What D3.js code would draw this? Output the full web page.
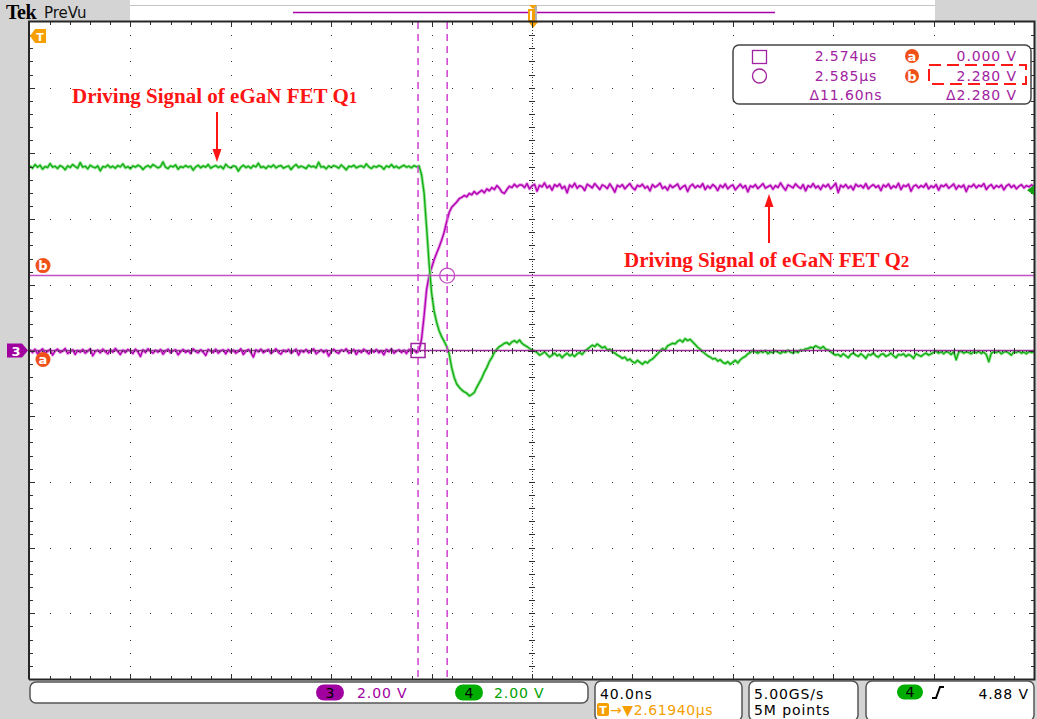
<!DOCTYPE html>
<html><head><meta charset="utf-8">
<script src="https://cdn.jsdelivr.net/npm/d3@7"></script>
<style>
html,body{margin:0;padding:0;background:#d4d4d4;}
svg{display:block;}
</style></head><body>
<svg id="scope" width="1037" height="719"></svg>
<script>
// ---- acquisition settings ----
const timePerDiv = 40;          // ns / div
const centerTime = 2619.4;      // ns at screen centre (trigger delay)
const voltsPerDiv = 2;          // V / div, both channels
const sampleStart = 2419.4;     // ns, first stored sample
const sampleStep = 1;           // ns between stored samples

// ---- channel 4 (green): gate drive of Q1, volts ----
const ch4Volts = [
  5.62,5.55,5.66,5.58,5.64,5.52,5.60,5.57,5.69,5.58,
  5.61,5.54,5.63,5.59,5.50,5.62,5.57,5.66,5.60,5.55,
  5.72,5.58,5.61,5.53,5.64,5.59,5.56,5.62,5.47,5.60,
  5.58,5.65,5.57,5.61,5.55,5.63,5.59,5.68,5.56,5.60,
  5.53,5.62,5.58,5.64,5.60,5.51,5.59,5.63,5.57,5.66,
  5.61,5.56,5.60,5.74,5.58,5.54,5.62,5.59,5.65,5.52,
  5.60,5.57,5.63,5.58,5.61,5.49,5.59,5.64,5.56,5.62,
  5.58,5.66,5.55,5.60,5.63,5.57,5.61,5.53,5.67,5.59,
  5.56,5.62,5.60,5.46,5.58,5.64,5.57,5.61,5.55,5.63,
  5.59,5.70,5.57,5.60,5.54,5.62,5.58,5.65,5.56,5.61,
  5.63,5.55,5.59,5.62,5.51,5.60,5.66,5.57,5.61,5.58,
  5.54,5.64,5.59,5.61,5.56,5.73,5.58,5.60,5.53,5.62,
  5.57,5.63,5.60,5.55,5.65,5.58,5.50,5.61,5.59,5.64,
  5.56,5.60,5.62,5.57,5.68,5.59,5.54,5.61,5.58,5.63,
  5.60,5.52,5.62,5.58,5.66,5.57,5.61,5.55,5.60,5.64,
  5.58,5.61,5.56,5.63,5.59,5.62,
  5.35,4.80,3.75,2.65,1.75,1.20,0.86,0.60,0.42,0.28,
  0.12,-0.10,-0.52,-0.82,-1.02,-1.12,-1.20,-1.26,-1.30,-1.38,
  -1.34,-1.28,-1.12,-0.98,-0.84,-0.66,-0.52,-0.34,-0.22,-0.06,
  0.04,0.12,0.16,0.22,0.24,0.18,0.26,0.30,0.24,0.32,
  0.22,0.16,0.12,0.06,0.02,
  -0.02,-0.06,-0.14,-0.10,-0.04,-0.12,-0.20,-0.14,-0.08,-0.16,
  -0.12,-0.22,-0.14,-0.08,-0.16,-0.12,-0.18,-0.10,-0.06,-0.12,
  -0.02,0.04,0.10,0.16,0.12,0.20,0.14,0.08,0.12,0.02,
  0.04,-0.04,-0.08,-0.14,-0.18,-0.24,-0.20,-0.30,-0.26,-0.34,
  -0.38,-0.30,-0.36,-0.42,-0.34,-0.38,-0.30,-0.26,-0.18,-0.10,
  -0.02,0.06,0.02,0.14,0.18,0.22,0.20,0.28,0.32,0.26,
  0.36,0.30,0.34,0.26,0.18,0.10,0.04,-0.04,-0.10,-0.16,
  -0.20,-0.26,-0.24,-0.32,-0.28,-0.36,-0.40,-0.34,-0.42,-0.36,
  -0.30,-0.38,-0.28,-0.22,-0.18,-0.10,-0.06,0.00,-0.04,-0.08,
  -0.02,-0.06,0.00,-0.10,-0.04,-0.07,-0.01,-0.05,-0.09,-0.03,
  -0.06,0.01,-0.05,-0.08,-0.02,-0.06,0.02,0.00,0.05,0.06,
  0.10,0.08,0.14,0.10,0.06,0.12,0.04,0.02,-0.04,-0.10,
  -0.14,-0.12,-0.18,-0.10,-0.16,-0.22,-0.12,-0.08,-0.14,-0.18,
  -0.10,-0.16,-0.24,-0.12,-0.14,-0.08,-0.16,-0.20,-0.12,-0.10,
  -0.18,-0.14,-0.08,-0.16,-0.22,-0.12,-0.14,-0.10,-0.18,-0.12,
  -0.16,-0.24,-0.10,-0.14,-0.18,-0.12,-0.08,-0.14,-0.10,-0.06,
  -0.02,-0.08,-0.04,-0.10,-0.03,-0.06,-0.12,-0.04,-0.28,-0.05,
  -0.02,-0.08,-0.04,-0.06,-0.10,-0.03,-0.07,-0.02,-0.09,-0.05,
  -0.12,-0.34,-0.08,-0.04,-0.06,-0.02,-0.10,-0.05,-0.03,-0.08,
  -0.14,-0.04,-0.06,-0.02,-0.08,-0.05,-0.10,-0.03,-0.06,-0.04
];

// ---- channel 3 (magenta): gate drive of Q2, volts ----
const ch3Volts = [
  0.02,-0.06,0.04,-0.10,-0.02,0.05,-0.08,-0.03,0.03,-0.14,
  -0.01,0.04,-0.06,-0.02,0.06,-0.09,-0.04,0.02,-0.12,0.00,
  -0.05,0.03,-0.08,-0.02,0.05,-0.16,-0.03,0.01,-0.07,0.04,
  -0.04,-0.10,0.02,-0.05,0.06,-0.03,-0.12,0.01,-0.06,0.03,
  -0.02,-0.09,0.04,-0.04,-0.18,0.02,-0.06,0.05,-0.03,-0.08,
  0.01,-0.05,0.03,-0.11,-0.02,0.04,-0.07,-0.01,0.02,-0.13,
  -0.04,0.03,-0.06,0.00,-0.09,0.05,-0.03,-0.07,0.02,-0.05,
  -0.15,0.03,-0.02,-0.06,0.04,-0.08,-0.01,0.02,-0.10,0.03,
  -0.05,0.01,-0.08,-0.03,0.05,-0.12,-0.02,0.03,-0.06,-0.20,
  0.02,-0.04,0.04,-0.07,-0.01,0.03,-0.09,-0.03,0.05,-0.06,
  -0.11,0.01,-0.04,0.03,-0.08,-0.02,0.04,-0.14,0.00,-0.05,
  0.03,-0.07,-0.02,0.05,-0.10,-0.04,0.02,-0.06,0.01,-0.17,
  -0.03,0.04,-0.05,-0.09,0.02,-0.02,0.05,-0.08,-0.04,0.03,
  -0.12,0.00,-0.06,0.04,-0.03,-0.10,0.02,-0.05,0.03,-0.07,
  -0.01,-0.13,0.03,-0.04,0.05,-0.08,-0.02,0.02,-0.06,0.01,
  -0.09,0.03,-0.04,0.02,-0.07,0.00,
  0.35,1.05,1.85,2.28,2.52,2.76,2.96,3.15,3.36,3.60,
  3.92,4.20,4.36,4.44,4.52,4.62,4.66,4.72,4.68,4.78,
  4.74,4.84,4.76,4.82,4.88,4.80,4.92,4.86,4.96,4.90,
  5.02,4.94,4.82,4.78,4.90,5.00,4.96,5.06,4.98,5.04,
  5.04,4.96,5.08,4.92,5.01,5.06,4.85,5.03,4.98,5.10,
  4.95,5.02,4.88,5.05,4.99,5.07,4.93,5.00,4.80,5.04,
  4.97,5.09,4.94,5.02,4.98,4.87,5.06,5.01,4.95,5.08,
  4.99,4.90,5.04,5.00,4.93,5.07,4.96,4.82,5.03,4.98,
  5.05,4.92,5.01,5.08,4.96,4.89,5.03,4.99,5.06,4.94,
  5.00,4.86,5.05,4.97,5.02,5.09,4.93,4.99,4.88,5.04,
  4.96,5.01,5.07,4.91,4.98,5.03,4.84,5.00,5.06,4.95,
  5.02,4.97,5.08,4.90,5.01,4.94,5.05,4.99,4.87,5.03,
  4.96,5.07,4.92,5.00,5.04,4.89,4.98,5.06,4.95,5.02,
  4.83,5.01,4.97,5.05,4.93,5.00,5.08,4.94,4.99,5.03,
  4.91,5.02,4.96,5.10,4.98,4.88,5.04,5.00,4.95,5.07,
  4.99,4.93,5.05,4.86,5.02,4.97,5.08,4.95,5.01,4.90,
  5.04,4.98,5.06,4.92,5.00,5.09,4.81,5.03,4.97,5.05,
  4.94,5.01,4.89,5.06,4.99,5.03,4.95,5.08,4.92,5.00,
  5.05,4.96,5.02,4.87,5.04,4.98,5.07,4.93,5.01,4.96,
  5.09,4.90,5.03,4.99,5.06,4.85,5.00,5.04,4.95,5.02,
  4.97,5.08,4.92,5.01,4.96,5.05,4.88,5.03,4.99,5.06,
  4.94,5.00,5.07,4.91,5.02,4.97,5.04,4.84,5.01,4.98,
  5.06,4.95,5.03,4.99,5.08,4.90,5.00,5.05,4.93,5.02,
  4.97,5.04,4.89,5.01,5.06,4.96,5.03,4.92,5.00,5.05,
  4.95,5.02,4.98,5.04,4.99
];

// ---- cursors, trigger and readouts ----
const cursorTimes = [2574.0, 2585.6];   // ns (a, b)
const cursorVolts = [0.000, 2.280];     // V  (a, b)
const triggerLevel = 4.88;              // V on channel 4
const readoutTimes = ["2.574µs", "2.585µs", "Δ11.60ns"];
const readoutVolts = ["0.000 V", "2.280 V", "Δ2.280 V"];
const channelNames = ["3", "4"];
const channelScales = ["2.00 V", "2.00 V"];
const horizontalLabels = ["40.0ns", "2.61940µs"];
const acquisitionLabels = ["5.00GS/s", "5M points"];
const triggerLabel = "4.88 V";
const annotations = ["Driving Signal of eGaN FET Q", "1", "Driving Signal of eGaN FET Q", "2"];

// ---- layout ----
const W = 1037, H = 719;
const plot = {left: 30, right: 1034, top: 22, bottom: 679};
const C3 = "#b400b4", C3light = "#e6a0e6", C4 = "#12b012", C4light = "#a0e4a0";
const CURSOR = "#c450c4", READ = "#a022a0", ORANGE = "#f5a000", BADGE = "#f0501a";
const UI_FONT = "'DejaVu Sans', Verdana, sans-serif";

const svg = d3.select("#scope");

const x = d3.scaleLinear()
  .domain([centerTime - 5 * timePerDiv, centerTime + 5 * timePerDiv])
  .range([plot.left, plot.right]);
const y = d3.scaleLinear()
  .domain([-5 * voltsPerDiv, 5 * voltsPerDiv])
  .range([plot.bottom, plot.top]);

// frame and header
svg.append("rect").attr("width", W).attr("height", H).attr("fill", "#d4d4d4");
svg.append("rect").attr("x", 130).attr("y", 0).attr("width", 805).attr("height", 21).attr("fill", "#fff");
svg.append("line").attr("x1", 130).attr("x2", 935).attr("y1", 5.5).attr("y2", 5.5).attr("stroke", "#c4c4c4");
svg.append("rect").attr("x", plot.left).attr("y", plot.top)
  .attr("width", plot.right - plot.left).attr("height", plot.bottom - plot.top).attr("fill", "#fff");

svg.append("text").attr("x", 6).attr("y", 19).text("Tek")
  .attr("font-family", "'Liberation Serif', serif").attr("font-weight", "bold")
  .attr("font-size", 20).attr("letter-spacing", -0.5).attr("fill", "#000");
svg.append("text").attr("x", 44).attr("y", 18).text("PreVu")
  .attr("font-family", UI_FONT).attr("font-size", 15).attr("fill", "#111");

// record overview bar and trigger position marker
svg.append("line").attr("x1", 293).attr("x2", 775).attr("y1", 12.5).attr("y2", 12.5)
  .attr("stroke", "#a800a8").attr("stroke-width", 1.5);
const tx = Math.round(x(centerTime)) + 1;
svg.append("rect").attr("x", tx + 1).attr("y", 6).attr("width", 3).attr("height", 15).attr("fill", "#b0b0b0");
svg.append("rect").attr("x", tx - 5).attr("y", 9).attr("width", 7).attr("height", 12).attr("fill", ORANGE);
svg.append("rect").attr("x", tx - 3).attr("y", 11).attr("width", 2).attr("height", 9).attr("fill", "#fff");
svg.append("path").attr("d", `M${tx - 4},5 H${tx + 4} L${tx},9 Z`).attr("fill", ORANGE);
svg.append("path").attr("d", `M${tx - 5},21 H${tx + 6} L${tx},28 Z`).attr("fill", ORANGE);

// ---- waveforms ----
svg.append("clipPath").attr("id", "screen").append("rect")
  .attr("x", plot.left).attr("y", plot.top)
  .attr("width", plot.right - plot.left).attr("height", plot.bottom - plot.top);
const wave = svg.append("g").attr("clip-path", "url(#screen)");
const trace = d3.line().x((v, i) => x(sampleStart + i * sampleStep)).y(v => y(v));
[[ch3Volts, C3, C3light], [ch4Volts, C4, C4light]].forEach(([vals, core, halo]) => {
  wave.append("path").attr("d", trace(vals)).attr("fill", "none")
    .attr("stroke", halo).attr("stroke-width", 3.2).attr("stroke-linejoin", "round");
  wave.append("path").attr("d", trace(vals)).attr("fill", "none")
    .attr("stroke", core).attr("stroke-width", 1.4).attr("stroke-linejoin", "round");
});

// ---- cursors ----
cursorVolts.forEach((v, i) => {
  svg.append("line").attr("x1", plot.left).attr("x2", plot.right)
    .attr("y1", y(v)).attr("y2", y(v)).attr("stroke", i === 0 ? "#9a2c9a" : CURSOR).attr("stroke-width", 1.5);
});
cursorTimes.forEach(t => {
  svg.append("line").attr("x1", x(t)).attr("x2", x(t)).attr("y1", plot.top).attr("y2", plot.bottom)
    .attr("stroke", "#d040d0").attr("stroke-width", 1.5).attr("stroke-dasharray", "7,5");
});

// ---- graticule (drawn over the waveforms, as on the instrument) ----
const g = svg.append("g").attr("shape-rendering", "crispEdges").attr("fill", "#2e2e2e");
const minorT = d3.range(-24, 25).map(k => centerTime + k * timePerDiv / 5);
const minorV = d3.range(-24, 25).map(k => k * voltsPerDiv / 5);
const majorT = d3.range(-4, 5).filter(k => k !== 0).map(k => centerTime + k * timePerDiv);
const majorV = d3.range(-4, 5).filter(k => k !== 0).map(k => k * voltsPerDiv);
const dots = [];
majorV.forEach(v => minorT.forEach(t => dots.push([x(t), y(v)])));
majorT.forEach(t => minorV.forEach(v => dots.push([x(t), y(v)])));
d3.range(-124, 125).forEach(k => dots.push([x(centerTime + k * timePerDiv / 25), y(0)]));
d3.range(-124, 125).forEach(k => dots.push([x(centerTime), y(k * voltsPerDiv / 25)]));
g.selectAll("rect.dot").data(dots).join("rect").attr("class", "dot")
  .attr("x", d => Math.round(d[0])).attr("y", d => Math.round(d[1]))
  .attr("width", 1).attr("height", 1);

const tickG = svg.append("g").attr("stroke", "#2e2e2e").attr("stroke-width", 1).attr("shape-rendering", "crispEdges");
minorT.forEach((t, i) => {
  const xx = Math.round(x(t)) + 0.5, len = (i % 5 === 4) ? 5 : 3;
  tickG.append("line").attr("x1", xx).attr("x2", xx).attr("y1", plot.top).attr("y2", plot.top + len);
  tickG.append("line").attr("x1", xx).attr("x2", xx).attr("y1", plot.bottom).attr("y2", plot.bottom - len);
  tickG.append("line").attr("x1", xx).attr("x2", xx).attr("y1", y(0) - 3).attr("y2", y(0) + 3);
});
minorV.forEach((v, i) => {
  const yy = Math.round(y(v)) + 0.5, len = (i % 5 === 4) ? 5 : 3;
  tickG.append("line").attr("y1", yy).attr("y2", yy).attr("x1", plot.left).attr("x2", plot.left + len);
  tickG.append("line").attr("y1", yy).attr("y2", yy).attr("x1", plot.right).attr("x2", plot.right - len);
  tickG.append("line").attr("y1", yy).attr("y2", yy).attr("x1", x(centerTime) - 3).attr("x2", x(centerTime) + 3);
});

// plot border
svg.append("path")
  .attr("d", `M${plot.left - 1},${plot.bottom + 0.5} V${plot.top - 0.5} H${plot.right + 0.5} V${plot.bottom + 0.5} H${plot.left - 1}`)
  .attr("fill", "none").attr("stroke", "#262626").attr("stroke-width", 2);

// cursor point markers
svg.append("rect").attr("x", x(cursorTimes[0]) - 7).attr("y", y(cursorVolts[0]) - 7)
  .attr("width", 14).attr("height", 14).attr("fill", "none").attr("stroke", READ).attr("stroke-width", 1.5);
svg.append("circle").attr("cx", x(cursorTimes[1])).attr("cy", y(cursorVolts[1])).attr("r", 7.5)
  .attr("fill", "none").attr("stroke", CURSOR).attr("stroke-width", 1.3);

// cursor badges on the left edge
function badge(cx, cy, letter, r) {
  svg.append("circle").attr("cx", cx).attr("cy", cy).attr("r", r).attr("fill", BADGE);
  svg.append("text").attr("x", cx).attr("y", cy + 4.5).text(letter)
    .attr("text-anchor", "middle").attr("font-family", UI_FONT).attr("font-weight", "bold")
    .attr("font-size", 13).attr("fill", "#fff");
}
badge(43, y(cursorVolts[1]) - 10, "b", 7.5);
badge(43, y(cursorVolts[0]) + 9, "a", 7.5);

// channel 3 ground marker
const gy = y(0);
svg.append("path").attr("d", `M7,${gy - 7} H22 L28,${gy} L22,${gy + 7} H7 Z`).attr("fill", "#a000a0");
svg.append("text").attr("x", 16).attr("y", gy + 5).text(channelNames[0]).attr("text-anchor", "middle")
  .attr("font-family", UI_FONT).attr("font-weight", "bold").attr("font-size", 13).attr("fill", "#fff");

// trigger marker (left) and channel 4 trigger level marker (right)
svg.append("path").attr("d", "M30,36 L35,29 H46 V43 H35 Z").attr("fill", ORANGE);
svg.append("text").attr("x", 40).attr("y", 41).text("T").attr("text-anchor", "middle")
  .attr("font-family", UI_FONT).attr("font-weight", "bold").attr("font-size", 11).attr("fill", "#fff");
const ty = y(triggerLevel);
svg.append("path").attr("d", `M${plot.right - 7},${ty} L${plot.right},${ty - 5} V${ty + 5} Z`).attr("fill", "#10a010");

// ---- cursor readout box ----
svg.append("rect").attr("x", 733).attr("y", 45).attr("width", 298).attr("height", 59).attr("rx", 6)
  .attr("fill", "#fff").attr("stroke", "#444").attr("stroke-width", 1.5);
svg.append("rect").attr("x", 752.5).attr("y", 50.5).attr("width", 14).attr("height", 13)
  .attr("fill", "none").attr("stroke", READ).attr("stroke-width", 1.3);
svg.append("circle").attr("cx", 759.5).attr("cy", 76).attr("r", 7)
  .attr("fill", "none").attr("stroke", READ).attr("stroke-width", 1.3);
const rowY = [61, 81, 100];
readoutTimes.forEach((s, i) => {
  svg.append("text").attr("x", 846).attr("y", rowY[i]).text(s).attr("text-anchor", "middle")
    .attr("font-family", UI_FONT).attr("font-size", 14).attr("letter-spacing", 0.9).attr("fill", READ);
});
readoutVolts.forEach((s, i) => {
  svg.append("text").attr("x", 1017).attr("y", rowY[i]).text(s).attr("text-anchor", "end")
    .attr("font-family", UI_FONT).attr("font-size", 14).attr("letter-spacing", 0.9).attr("fill", READ);
});
[["a", 56], ["b", 76]].forEach(([l, cy]) => {
  svg.append("circle").attr("cx", 912).attr("cy", cy).attr("r", 7).attr("fill", BADGE);
  svg.append("text").attr("x", 912).attr("y", cy + 4.5).text(l).attr("text-anchor", "middle")
    .attr("font-family", UI_FONT).attr("font-weight", "bold").attr("font-size", 13).attr("fill", "#fff");
});
// red highlight around the 2.280 V reading
svg.append("rect").attr("x", 929).attr("y", 65).attr("width", 97).attr("height", 19)
  .attr("fill", "none").attr("stroke", "#ff1a1a").attr("stroke-width", 2).attr("stroke-dasharray", "12,6");

// ---- annotations ----
function annot(xp, yp, main, sub) {
  const t = svg.append("text").attr("x", xp).attr("y", yp)
    .attr("font-family", "'Liberation Serif', 'Times New Roman', serif").attr("font-weight", "bold")
    .attr("font-size", 21).attr("fill", "#ff1414");
  t.append("tspan").text(main);
  t.append("tspan").attr("font-size", 17).text(sub);
}
annot(72, 103, annotations[0], annotations[1]);
annot(624, 267, annotations[2], annotations[3]);
function arrow(xp, y0, y1) {
  const dir = y1 > y0 ? 1 : -1;
  svg.append("line").attr("x1", xp).attr("x2", xp).attr("y1", y0).attr("y2", y1 - dir * 11)
    .attr("stroke", "#ff1414").attr("stroke-width", 2);
  svg.append("path").attr("d", `M${xp},${y1} L${xp - 4.5},${y1 - dir * 13} L${xp + 4.5},${y1 - dir * 13} Z`)
    .attr("fill", "#ff1414");
}
arrow(217, 112, 162);
arrow(769, 243, 194);

// ---- bottom status boxes ----
function box(x0, y0, w, h) {
  svg.append("rect").attr("x", x0).attr("y", y0).attr("width", w).attr("height", h).attr("rx", 6)
    .attr("fill", "#fff").attr("stroke", "#555").attr("stroke-width", 1.5);
}
box(30, 682, 558, 21);
box(595, 681, 147, 40);
box(749, 681, 109, 40);
box(866, 681, 168, 40);

function pill(cx, cy, w, h, fill, label) {
  svg.append("rect").attr("x", cx - w / 2).attr("y", cy - h / 2).attr("width", w).attr("height", h)
    .attr("rx", h / 2).attr("fill", fill);
  svg.append("text").attr("x", cx).attr("y", cy + 5).text(label).attr("text-anchor", "middle")
    .attr("font-family", UI_FONT).attr("font-size", 14).attr("fill", "#000");
}
const uiText = (xp, yp, s, fill, anchor) => svg.append("text").attr("x", xp).attr("y", yp).text(s)
  .attr("text-anchor", anchor || "start").attr("font-family", UI_FONT).attr("font-size", 14)
  .attr("letter-spacing", 0.9).attr("fill", fill);

pill(330, 692.5, 28, 16, "#a000a0", channelNames[0]);
uiText(357, 698, channelScales[0], "#a000a0");
pill(469, 692.5, 28, 16, "#00ad00", channelNames[1]);
uiText(494, 698, channelScales[1], "#00a000");

uiText(600, 699, horizontalLabels[0], "#000");
svg.append("rect").attr("x", 597).attr("y", 703).attr("width", 12).attr("height", 13).attr("rx", 2).attr("fill", ORANGE);
svg.append("text").attr("x", 603).attr("y", 714).text("T").attr("text-anchor", "middle")
  .attr("font-family", UI_FONT).attr("font-weight", "bold").attr("font-size", 11).attr("fill", "#fff");
uiText(610, 715, "→▼" + horizontalLabels[1], ORANGE).attr("letter-spacing", 0.6);

uiText(754, 699, acquisitionLabels[0], "#000");
uiText(754, 715, acquisitionLabels[1], "#000");

pill(910, 692, 26, 15, "#00ad00", channelNames[1]);
svg.append("path").attr("d", "M932,698 H936 L940,687 H944").attr("fill", "none")
  .attr("stroke", "#000").attr("stroke-width", 2);
uiText(1029, 699, triggerLabel, "#000", "end");
</script>
</body></html>
